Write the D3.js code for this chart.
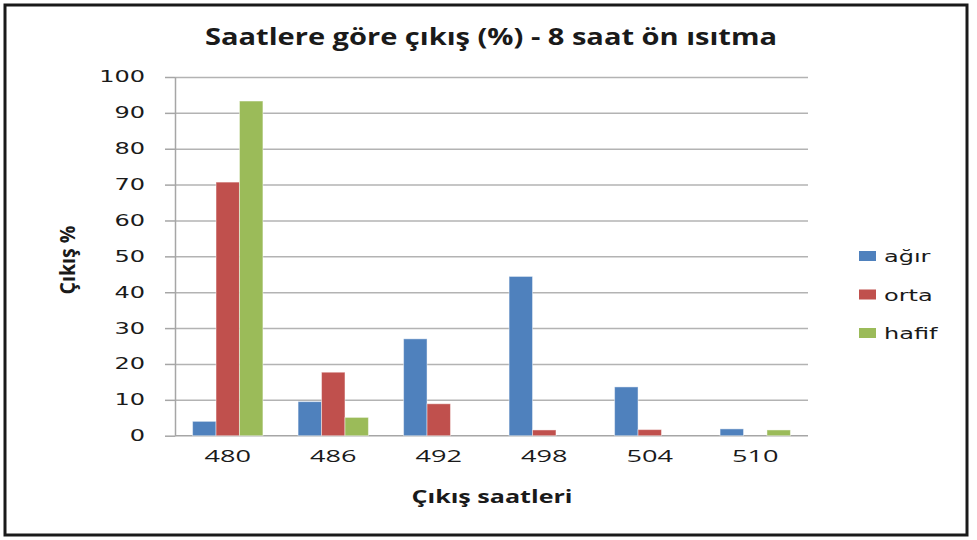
<!DOCTYPE html>
<html>
<head>
<meta charset="utf-8">
<script src="https://cdn.jsdelivr.net/npm/d3@7"></script>
<style>
  body { margin: 0; background: #fff; }
  .grid line { stroke: #b3b3b3; stroke-width: 1.5; }
  .axis line, .axis path { stroke: #a6a6a6; stroke-width: 1.5; }
</style>
</head>
<body>
<div id="chart"></div>
<script>
// Veriler
var saatler = ["480", "486", "492", "498", "504", "510"];
var seriler = ["ağır", "orta", "hafif"];
var agir  = [4, 9.5, 27, 44.4, 13.6, 1.9];
var orta  = [70.7, 17.7, 8.9, 1.6, 1.7, 0];
var hafif = [93.3, 5.1, 0, 0, 0, 1.6];
var renkler = ["#4F81BD", "#C0504D", "#9BBB59"];
var yTicks = [0, 10, 20, 30, 40, 50, 60, 70, 80, 90, 100];

var degerler = [agir, orta, hafif];

var W = 977, H = 540;
var plot = { left: 175, right: 808, top: 77, bottom: 435.7 };

var svg = d3.select("#chart").append("svg")
  .attr("width", W).attr("height", H);

svg.append("rect").attr("width", W).attr("height", H).attr("fill", "#fff");

// çerçeve
svg.append("rect")
  .attr("x", 5).attr("y", 5)
  .attr("width", 962).attr("height", 530)
  .attr("fill", "none").attr("stroke", "#1a1a1a").attr("stroke-width", 3);

// metni yatayda genişlet (orijinal görüntü yatayda gerilmiş)
function widen(sel, k) {
  sel.each(function() {
    var w = this.getComputedTextLength();
    d3.select(this).attr("textLength", w * k).attr("lengthAdjust", "spacingAndGlyphs");
  });
}

var x = d3.scaleBand().domain(saatler).range([plot.left, plot.right]);
var xs = d3.scaleBand().domain(seriler).range([0, x.bandwidth()])
  .paddingInner(0).paddingOuter(0.75);
var y = d3.scaleLinear().domain([0, 100]).range([plot.bottom, plot.top]);

// ızgara
svg.append("g")
  .attr("class", "grid")
  .attr("transform", "translate(" + plot.left + ",0)")
  .call(d3.axisLeft(y).tickValues(yTicks.slice(1)).tickSize(-(plot.right - plot.left)).tickFormat(""))
  .select(".domain").remove();

// y ekseni
var yAxis = svg.append("g")
  .attr("class", "axis")
  .attr("transform", "translate(" + plot.left + ",0)")
  .call(d3.axisLeft(y).tickValues(yTicks).tickSize(10).tickPadding(20).tickSizeOuter(0));
yAxis.selectAll("text")
  .style("font-family", "DejaVu Sans").style("font-size", "15.5px").attr("fill", "#1a1a1a");
widen(yAxis.selectAll("text"), 1.55);

// x ekseni çizgisi
svg.append("line")
  .attr("x1", plot.left).attr("x2", plot.right)
  .attr("y1", y(0)).attr("y2", y(0))
  .attr("stroke", "#a6a6a6").attr("stroke-width", 1.5);

// çubuklar
var gruplar = svg.append("g").selectAll("g")
  .data(saatler)
  .enter().append("g")
  .attr("transform", function(d) { return "translate(" + x(d) + ",0)"; });

gruplar.selectAll("rect")
  .data(function(d, i) {
    return seriler.map(function(s, j) { return { seri: s, deger: degerler[j][i], renk: renkler[j] }; });
  })
  .enter().append("rect")
  .filter(function(d) { return d.deger > 0; })
  .attr("x", function(d) { return xs(d.seri); })
  .attr("y", function(d) { return y(d.deger); })
  .attr("width", xs.bandwidth())
  .attr("height", function(d) { return y(0) - y(d.deger); })
  .attr("fill", function(d) { return d.renk; })
  .attr("stroke", "rgba(255,255,255,0.45)")
  .attr("stroke-width", 1);

// x etiketleri
var xEt = svg.append("g").selectAll("text")
  .data(saatler)
  .enter().append("text")
  .attr("x", function(d) { return x(d) + x.bandwidth() / 2; })
  .attr("y", 461.5)
  .attr("text-anchor", "middle")
  .style("font-family", "Open Sans").style("font-size", "15.5px").attr("fill", "#1a1a1a")
  .text(function(d) { return d; });
widen(xEt, 1.75);

// başlık
svg.append("text")
  .attr("x", 491).attr("y", 45)
  .attr("text-anchor", "middle")
  .attr("textLength", 572).attr("lengthAdjust", "spacingAndGlyphs")
  .style("font-family", "Open Sans").style("font-weight", "bold").style("font-size", "24px")
  .attr("fill", "#1a1a1a")
  .text("Saatlere göre çıkış (%) - 8 saat ön ısıtma");

// x başlığı
svg.append("text")
  .attr("x", 492).attr("y", 503)
  .attr("text-anchor", "middle")
  .attr("textLength", 161).attr("lengthAdjust", "spacingAndGlyphs")
  .style("font-family", "Open Sans").style("font-weight", "bold").style("font-size", "18px")
  .attr("fill", "#1a1a1a")
  .text("Çıkış saatleri");

// y başlığı
svg.append("text")
  .attr("transform", "translate(75,260) scale(1.45,1) rotate(-90)")
  .attr("text-anchor", "middle")
  .attr("textLength", 69).attr("lengthAdjust", "spacingAndGlyphs")
  .style("font-family", "Open Sans").style("font-weight", "bold").style("font-size", "15px")
  .attr("fill", "#1a1a1a")
  .text("Çıkış %");

// lejant
var lejant = svg.append("g").selectAll("g")
  .data(seriler)
  .enter().append("g")
  .attr("transform", function(d, i) { return "translate(859," + (256 + i * 38.5) + ")"; });

lejant.append("rect")
  .attr("x", 0).attr("y", -5)
  .attr("width", 17).attr("height", 10)
  .attr("fill", function(d, i) { return renkler[i]; });

var lejMetin = lejant.append("text")
  .attr("x", 25).attr("y", 6)
  .style("font-family", "DejaVu Sans").style("font-size", "16px").attr("fill", "#1a1a1a")
  .text(function(d) { return d; });
widen(lejMetin, 1.5);
</script>
</body>
</html>
